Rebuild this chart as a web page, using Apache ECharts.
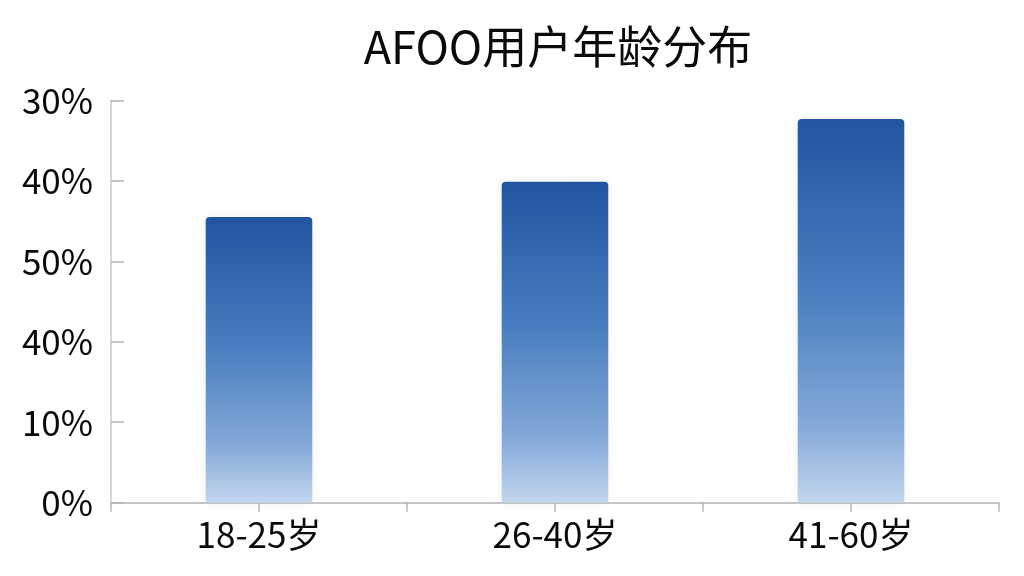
<!DOCTYPE html>
<html>
<head>
<meta charset="utf-8">
<script src="https://cdn.jsdelivr.net/npm/echarts@6/dist/echarts.min.js"></script>
<style>
html,body{margin:0;padding:0;background:#ffffff;}
#chart{width:1024px;height:576px;}
</style>
</head>
<body>
<div id="chart"></div>
<script>
const titleText = 'AFOO用户年龄分布';
const categories = ['18-25岁', '26-40岁', '41-60岁'];
const values = [35.5, 39.9, 47.7];
const tickLabels = ['0%', '10%', '40%', '50%', '40%', '30%'];
const tickSlots = ['', '', '', '', '', ''];

const FONT = '"Noto Sans CJK SC", "Noto Sans", sans-serif';
const chart = echarts.init(document.getElementById('chart'));
chart.setOption({
  backgroundColor: '#ffffff',
  animation: false,
  title: {
    text: titleText,
    left: 553,
    top: 19,
    textAlign: 'center',
    textStyle: { fontFamily: FONT, fontSize: 45, fontWeight: 'normal', color: '#0a0a0a' }
  },
  grid: { left: 111, right: 25, top: 100.4, bottom: 73.3, containLabel: false },
  xAxis: [
    {
      type: 'category',
      data: categories,
      axisLine: { show: true, lineStyle: { color: '#b4b4b4', width: 1.5 } },
      axisTick: { show: false },
      axisLabel: { fontFamily: FONT, fontSize: 35, color: '#0a0a0a', margin: 15 }
    },
    {
      type: 'category',
      data: tickSlots,
      position: 'bottom',
      axisLine: { show: false },
      axisTick: { show: true, length: 9, lineStyle: { color: '#b4b4b4', width: 1.5 } },
      axisLabel: { show: false }
    }
  ],
  yAxis: {
    type: 'value',
    min: 0,
    max: 50,
    interval: 10,
    splitLine: { show: false },
    axisLine: { show: true, lineStyle: { color: '#c3cad2', width: 1.5 } },
    axisTick: { show: true, inside: true, length: 13, lineStyle: { color: '#b4b4b4', width: 1.5 } },
    axisLabel: {
      fontFamily: FONT, fontSize: 35, color: '#0a0a0a', margin: 18,
      formatter: function (v) { return tickLabels[Math.round(v / 10)]; }
    }
  },
  series: [{
    type: 'bar',
    xAxisIndex: 0,
    data: values,
    barWidth: '36%',
    itemStyle: {
      borderRadius: [4, 4, 0, 0],
      shadowBlur: 10,
      shadowColor: 'rgba(0,0,0,0.06)',
      color: new echarts.graphic.LinearGradient(0, 0, 0, 1, [
        { offset: 0, color: '#2155a1' },
        { offset: 0.45, color: '#487dbf' },
        { offset: 0.8, color: '#84a9d8' },
        { offset: 1, color: '#c2d6ee' }
      ])
    }
  }]
});
</script>
</body>
</html>
